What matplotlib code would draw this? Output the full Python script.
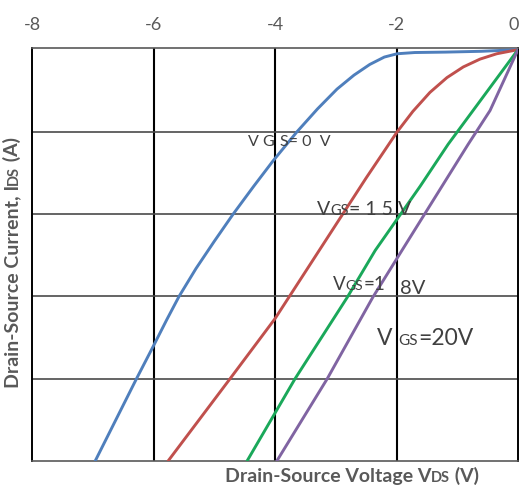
import matplotlib
matplotlib.use("Agg")
import matplotlib.pyplot as plt
from matplotlib.transforms import ScaledTranslation

plt.rcParams['font.family'] = ['Lato', 'DejaVu Sans']

# Drain-source voltage (V) / drain current (A) for each gate bias
vds_0 = [-6.96, -6.62, -6.28, -6.0, -5.78, -5.58, -5.3, -5.0, -4.69, -4.35, -4.03, -3.64,
         -3.3, -2.98, -2.7, -2.44, -2.2, -1.99, -1.7, -1.2, -0.6, 0.0]
ids_0 = [-5.0, -4.5, -4.0, -3.6, -3.28, -3.0, -2.66, -2.33, -2.0, -1.66, -1.35, -1.0,
         -0.72, -0.48, -0.31, -0.18, -0.09, -0.05, -0.035, -0.03, -0.02, 0.0]

vds_15 = [-5.76, -4.74, -4.0, -3.5, -3.0, -2.5, -1.99, -1.73, -1.45, -1.17, -0.9, -0.625, -0.35, 0.0]
ids_15 = [-5.0, -4.0, -3.27, -2.7, -2.13, -1.56, -1.0, -0.75, -0.52, -0.34, -0.21, -0.115, -0.05, 0.0]

vds_18 = [-4.46, -3.67, -2.81, -2.35, -1.61, -1.15, -0.63, 0.0]
ids_18 = [-5.0, -4.0, -3.01, -2.44, -1.66, -1.15, -0.63, 0.0]

vds_20 = [-3.97, -3.14, -2.39, -1.91, -0.82, -0.46, 0.0]
ids_20 = [-5.0, -4.0, -3.01, -2.44, -1.15, -0.74, 0.0]

x_ticks = [-8, -6, -4, -2, 0]
x_tick_labels = ["-8", "-6", "-4", "-2", "0"]
y_grid = [-1, -2, -3, -4]

W, H = 520, 490
fig = plt.figure(figsize=(W / 100, H / 100), dpi=100)
ax = fig.add_axes([32 / W, 1 - 461 / H, (518 - 32) / W, (461 - 48) / H])

ax.set_xlim(-8, 0)
ax.set_ylim(-5, 0.02)

# grid: vertical lines black, horizontal lines dark grey
for xv in x_ticks[1:-1]:
    ax.axvline(xv, color='black', lw=1.5, zorder=1)
for yv in y_grid:
    ax.axhline(yv, color='#4a4a4a', lw=1.2, zorder=1)

for side in ['left', 'right']:
    ax.spines[side].set_color('black')
    ax.spines[side].set_linewidth(1.4)
for side in ['top', 'bottom']:
    ax.spines[side].set_color('#595959')
    ax.spines[side].set_linewidth(1.2)

lw = 2.1
ax.plot(vds_0, ids_0, color='#4f7fbc', lw=lw, zorder=3, solid_capstyle='round')
ax.plot(vds_15, ids_15, color='#c0504d', lw=lw, zorder=3, solid_capstyle='round')
ax.plot(vds_18, ids_18, color='#1aa85a', lw=lw, zorder=3, solid_capstyle='round')
ax.plot(vds_20, ids_20, color='#8064a2', lw=lw, zorder=3, solid_capstyle='round')

ax.xaxis.tick_top()
ax.set_xticks(x_ticks)
ax.set_xticklabels(x_tick_labels, fontsize=13, color='#595959')
ax.tick_params(axis='x', length=0, pad=11)
ax.set_yticks([])

# keep the last tick label inside the figure edge
last = ax.get_xticklabels()[-1]
last.set_transform(last.get_transform() + ScaledTranslation(-4 / 100, 0, fig.dpi_scale_trans))

renderer = fig.canvas.get_renderer()


def chain(pieces, x, y, color='#404040', weight='normal', rotation=0):
    """Draw consecutive text pieces starting at pixel (x, y from top), baseline aligned."""
    cx, cy = x, y
    for text, size, dy in pieces:
        if rotation == 0:
            t = fig.text(cx / W, 1 - (cy + dy) / H, text, fontsize=size, color=color,
                         weight=weight, ha='left', va='baseline')
            bb = t.get_window_extent(renderer)
            cx += bb.width
        else:
            t = fig.text((cx + dy) / W, 1 - cy / H, text, fontsize=size, color=color,
                         weight=weight, ha='left', va='bottom', rotation=90,
                         rotation_mode='anchor')
            bb = t.get_window_extent(renderer)
            cy -= bb.height


# gate-bias labels
chain([("V G", 11.5, 0)], 248, 146)
chain([("S= 0  V", 11.5, 0)], 280, 146)
chain([("V", 14, 0), ("GS", 10.5, 0), ("= 1 5 V", 14, 0)], 317, 215)
chain([("V", 13.5, 0), ("GS", 10, 0), ("=1", 13.5, 0)], 333, 290)
chain([("8V", 14.5, 0)], 400, 294)
chain([("V ", 16.5, 0), ("GS", 11, 0), ("=20V", 16.5, 0)], 377, 345)

# axis titles
chain([("Drain-Source Voltage V", 14, 0), ("DS", 10.5, 0), (" (V)", 14, 0)], 225, 482,
      color='#595959', weight='bold')
chain([("Drain-Source Current, I", 14, 0), ("DS", 10.5, 0), (" (A)", 14, 0)], 21, 388,
      color='#595959', weight='bold', rotation=90)

fig.savefig("out.png", dpi=100)
